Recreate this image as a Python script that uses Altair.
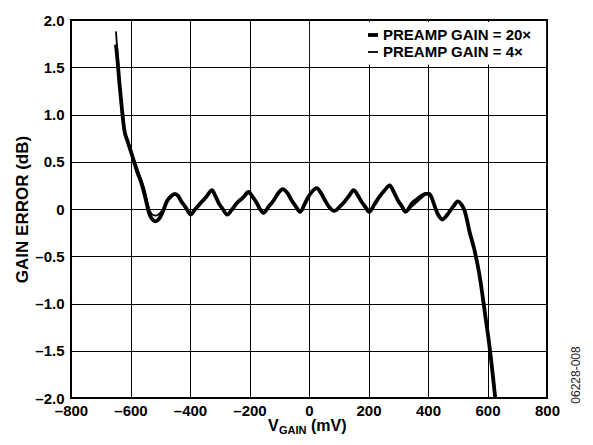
import altair as alt
import pandas as pd

# ---- data ----
vgain = [-649, -643, -638, -632, -627, -621, -610, -600, -593, -576, -565, -554, -545, -537,
         -526, -515, -503, -493, -476, -465, -451, -440, -431, -415, -398, -382, -365, -345,
         -326, -315, -303, -290, -275, -260, -243, -222, -203, -190, -175, -165, -153, -137,
         -119, -103, -88, -73, -58, -45, -30, -15, -2, 12, 26, 40, 54, 68, 85, 105, 120, 135,
         150, 163, 176, 190, 202, 220, 237, 255, 271, 285, 299, 312, 324, 342, 360, 378, 393,
         405, 418, 427, 438, 449, 460, 472, 486, 500, 512, 522, 530, 538, 555, 572, 594, 607, 626]

err_20x = [1.74, 1.55, 1.36, 1.16, 1.00, 0.84, 0.72, 0.62, 0.55, 0.38, 0.29, 0.17, 0.05, -0.05,
           -0.11, -0.13, -0.10, -0.04, 0.09, 0.13, 0.16, 0.14, 0.09, 0.02, -0.06, 0.00, 0.06, 0.13,
           0.20, 0.14, 0.06, 0.00, -0.06, -0.01, 0.06, 0.12, 0.18, 0.13, 0.06, 0.00, -0.04, 0.02,
           0.09, 0.17, 0.21, 0.17, 0.09, 0.03, -0.03, 0.05, 0.13, 0.19, 0.22, 0.17, 0.09, 0.02, -0.02, 0.03, 0.08, 0.14,
           0.20, 0.15, 0.08, 0.02, -0.03, 0.05, 0.13, 0.20, 0.25, 0.18, 0.09, 0.03, -0.03, 0.03, 0.08, 0.13, 0.16,
           0.16, 0.07, -0.01, -0.08, -0.11, -0.08, -0.03, 0.03, 0.08, 0.05, -0.01, -0.10, -0.22, -0.42, -0.68, -1.16, -1.46, -2.00]

err_4x = [1.88, 1.62, 1.40, 1.18, 1.01, 0.86, 0.73, 0.63, 0.57, 0.42, 0.32, 0.22, 0.10, 0.00,
          -0.06, -0.07, -0.05, -0.01, 0.10, 0.14, 0.15, 0.13, 0.09, 0.02, -0.06, 0.00, 0.06, 0.13,
          0.20, 0.14, 0.06, 0.00, -0.06, -0.01, 0.06, 0.12, 0.18, 0.13, 0.06, 0.00, -0.04, 0.02,
          0.09, 0.17, 0.21, 0.17, 0.09, 0.03, -0.03, 0.05, 0.13, 0.19, 0.22, 0.17, 0.09, 0.02, -0.02, 0.03, 0.08, 0.14,
          0.20, 0.15, 0.08, 0.02, -0.03, 0.05, 0.13, 0.20, 0.25, 0.18, 0.09, 0.03, -0.03, 0.06, 0.11, 0.15, 0.17,
          0.16, 0.07, -0.01, -0.08, -0.11, -0.08, -0.03, 0.03, 0.08, 0.05, -0.01, -0.10, -0.22, -0.42, -0.68, -1.16, -1.46, -2.00]

series_names = ["PREAMP GAIN = 20\u00d7", "PREAMP GAIN = 4\u00d7"]
x_ticks = [-800, -600, -400, -200, 0, 200, 400, 600, 800]
y_ticks = [-2.0, -1.5, -1.0, -0.5, 0, 0.5, 1.0, 1.5, 2.0]

FONT = "Liberation Sans"

df20 = pd.DataFrame({"v": vgain, "e": err_20x})
df4 = pd.DataFrame({"v": vgain, "e": err_4x})

xscale = alt.Scale(domain=[-800, 800], nice=False, zero=False)
yscale = alt.Scale(domain=[-2.0, 2.0], nice=False, zero=False)

xaxis = alt.Axis(values=x_ticks, title=None, grid=True, gridColor="black", gridWidth=1,
                 gridOpacity=1, ticks=False, domain=False, labelPadding=5, labelFlush=False,
                 labelOverlap=False,
                 labelFont=FONT, labelFontSize=15, labelFontWeight="bold", labelColor="black",
                 labelExpr="datum.value < 0 ? '\u2013' + format(abs(datum.value), 'd') : format(datum.value, 'd')")
yaxis = alt.Axis(values=y_ticks, title="GAIN ERROR (dB)", grid=True, gridColor="black", gridWidth=1,
                 gridOpacity=1, ticks=False, domain=False, labelPadding=7, labelFlush=False,
                 labelOverlap=False,
                 labelFont=FONT, labelFontSize=15, labelFontWeight="bold", labelColor="black",
                 titleFont=FONT, titleFontSize=17, titleFontWeight="bold", titleColor="black",
                 titlePadding=3,
                 labelExpr="datum.value == 0 ? '0' : (datum.value < 0 ? '\u2013' + format(abs(datum.value), '.1f') : format(datum.value, '.1f'))")

line20 = alt.Chart(df20).mark_line(color="black", strokeWidth=3.8, interpolate="monotone", clip=True).encode(
    x=alt.X("v:Q", scale=xscale, axis=xaxis),
    y=alt.Y("e:Q", scale=yscale, axis=yaxis),
)
line4 = alt.Chart(df4).mark_line(color="black", strokeWidth=1.8, interpolate="monotone", clip=True).encode(
    x=alt.X("v:Q", scale=xscale),
    y=alt.Y("e:Q", scale=yscale),
)

# white legend background box
box_df = pd.DataFrame({"x1": [3], "x2": [797], "y1": [1.53], "y2": [1.98]})
box = alt.Chart(box_df).mark_rect(color="white").encode(
    x=alt.X("x1:Q", scale=xscale), x2="x2:Q",
    y=alt.Y("y1:Q", scale=yscale), y2="y2:Q",
)

leg_df = pd.DataFrame({"name": series_names, "row": [0, 1]})
leg_sym20 = alt.Chart(leg_df.iloc[[0]]).mark_rule(color="black", strokeWidth=3.8).encode(
    x=alt.value(297), x2=alt.value(307), y=alt.value(15))
leg_sym4 = alt.Chart(leg_df.iloc[[1]]).mark_rule(color="black", strokeWidth=1.8).encode(
    x=alt.value(297), x2=alt.value(307), y=alt.value(32))
leg_txt20 = alt.Chart(leg_df.iloc[[0]]).mark_text(align="left", baseline="middle", font=FONT,
                                                  fontSize=15, fontWeight="bold", color="black").encode(
    x=alt.value(312), y=alt.value(15), text="name:N")
leg_txt4 = alt.Chart(leg_df.iloc[[1]]).mark_text(align="left", baseline="middle", font=FONT,
                                                 fontSize=15, fontWeight="bold", color="black").encode(
    x=alt.value(312), y=alt.value(32), text="name:N")

# x axis title with subscript
t_df = pd.DataFrame({"a": ["V"], "b": ["GAIN"], "c": ["(mV)"]})
xt_v = alt.Chart(t_df).mark_text(align="left", baseline="alphabetic", font=FONT, fontSize=16,
                                 fontWeight="bold", color="black").encode(
    x=alt.value(197), y=alt.value(411), text="a:N")
xt_g = alt.Chart(t_df).mark_text(align="left", baseline="alphabetic", font=FONT, fontSize=11,
                                 fontWeight="bold", color="black").encode(
    x=alt.value(208), y=alt.value(414), text="b:N")
xt_m = alt.Chart(t_df).mark_text(align="left", baseline="alphabetic", font=FONT, fontSize=16,
                                 fontWeight="bold", color="black").encode(
    x=alt.value(240), y=alt.value(411), text="c:N")

side_df = pd.DataFrame({"s": ["06228-008"]})
side = alt.Chart(side_df).mark_text(angle=270, align="center", baseline="middle", font=FONT,
                                    fontSize=12, color="#222222").encode(
    x=alt.value(505), y=alt.value(355), text="s:N")

chart = alt.layer(
    line20, line4, box, leg_sym20, leg_sym4, leg_txt20, leg_txt4, xt_v, xt_g, xt_m, side
).properties(
    width=476, height=378,
    autosize=alt.AutoSizeParams(type="none"),
    padding={"left": 63, "top": 12, "right": 38, "bottom": 39},
    background="white",
).configure_view(
    stroke="black", strokeWidth=2
)

chart.save("out.html", embed_options={"renderer": "svg", "actions": False})
